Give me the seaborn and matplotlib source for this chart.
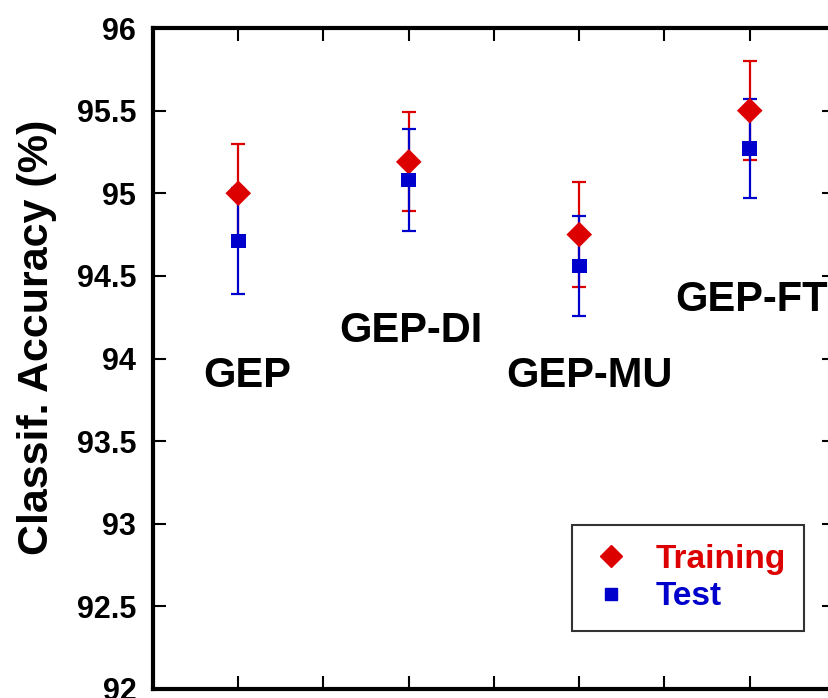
import matplotlib
matplotlib.use("Agg")
import matplotlib.pyplot as plt
import seaborn as sns
import pandas as pd
import numpy as np
from matplotlib.lines import Line2D

methods = ["GEP", "GEP-DI", "GEP-MU", "GEP-FT"]
training_acc = [95.00, 95.19, 94.75, 95.50]
training_err = [0.30, 0.30, 0.32, 0.30]
test_acc = [94.71, 95.08, 94.56, 95.27]
test_err = [0.32, 0.31, 0.30, 0.30]
y_ticks = [92, 92.5, 93, 93.5, 94, 94.5, 95, 95.5, 96]
y_tick_labels = ["92", "92.5", "93", "93.5", "94", "94.5", "95", "95.5", "96"]
label_x = [0.05, 1.015, 2.06, 3.01]
label_y = [93.83, 94.10, 93.83, 94.29]

RED = "#DD0000"
BLUE = "#0000CC"

sns.set_theme(style="white")
plt.rcParams["font.family"] = ["Liberation Sans", "DejaVu Sans"]
plt.rcParams["font.weight"] = "bold"
for key in ["text.color", "axes.labelcolor", "xtick.color", "ytick.color"]:
    plt.rcParams[key] = "black"

pos = np.arange(len(methods))
df = pd.DataFrame({
    "pos": np.concatenate([pos, pos]),
    "acc": training_acc + test_acc,
    "err": training_err + test_err,
    "set": ["Training"] * 4 + ["Test"] * 4,
})

fig = plt.figure(figsize=(8.29, 6.98), dpi=100)
W, H = 829, 698
left, right, top, bottom = 153, 835, 28, 689
ax = fig.add_axes([left / W, (H - bottom) / H, (right - left) / W, (bottom - top) / H])

colors = {"Training": RED, "Test": BLUE}
for name in ["Training", "Test"]:
    sub = df[df["set"] == name]
    ax.errorbar(sub["pos"], sub["acc"], yerr=sub["err"], fmt="none",
                ecolor=colors[name], elinewidth=1.6, capsize=5, capthick=1.6, zorder=2)

sns.scatterplot(data=df, x="pos", y="acc", hue="set", style="set", size="set",
                markers={"Training": "D", "Test": "s"},
                sizes={"Training": 170, "Test": 110},
                palette=colors, linewidth=0,
                legend=False, ax=ax, zorder=3)

ax.set_xlim(-0.5, 3.5)
ax.set_ylim(92, 96)
ax.set_xticks(np.arange(0, 3.01, 0.5))
ax.set_xticklabels([])
ax.set_yticks(y_ticks)
ax.set_yticklabels(y_tick_labels, fontsize=22, fontweight="bold", color="black")
ax.tick_params(axis="both", which="major", direction="in", length=9.5, width=1.5,
               color="black", top=True, right=True, left=True, bottom=True,
               labelright=False, labeltop=False)
ax.tick_params(axis="y", pad=12)
for sp in ax.spines.values():
    sp.set_linewidth(3)
    sp.set_color("black")
ax.set_xlabel("")
ax.set_ylabel("Classif. Accuracy (%)", fontsize=31, fontweight="bold", color="black")
ax.yaxis.set_label_coords(-0.141, 0.5325)

for m, lx, ly in zip(methods, label_x, label_y):
    ax.text(lx, ly, m, fontsize=30, fontweight="bold", ha="center", va="baseline", color="black")

handles = [Line2D([], [], marker="D", color=RED, linestyle="none", markersize=11),
           Line2D([], [], marker="s", color=BLUE, linestyle="none", markersize=9)]
leg = ax.legend(handles, ["Training", "Test"], loc="center",
                bbox_to_anchor=(0.785, 0.168),
                prop={"weight": "bold", "size": 24},
                labelcolor=[RED, BLUE], frameon=True, fancybox=False,
                handlelength=1.2, handletextpad=0.75, borderpad=0.55,
                labelspacing=0.2, borderaxespad=0)
leg.get_frame().set_edgecolor("black")
leg.get_frame().set_linewidth(1.5)

fig.savefig("out.png", dpi=100, facecolor="white")
